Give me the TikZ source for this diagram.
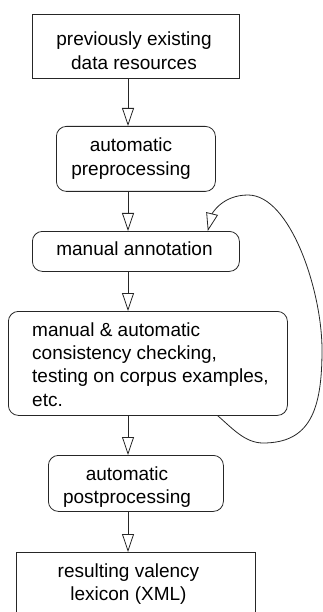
\documentclass[tikz,border=0pt]{standalone}
\usepackage{fontspec}
\setmainfont{Liberation Sans}
\usetikzlibrary{arrows.meta}
\begin{document}
\begin{tikzpicture}[x=1pt,y=-1pt,
  box/.style={draw=black!85, line width=0.8pt, inner sep=0pt, anchor=north west},
  rbox/.style={box, rounded corners=10pt},
  txt/.style={inner sep=0pt, anchor=base, font=\fontsize{19}{23.4}\selectfont},
  arr/.style={draw=black!85, line width=0.8pt, -{Triangle[open,length=18pt,width=12pt]}}
]
\path[use as bounding box, clip] (0,0) rectangle (323,612);
\coordinate (ax) at (128,0);
% boxes
\node[box,  minimum width=207pt, minimum height=64pt]  (b1) at (32,14) {};
\node[rbox, minimum width=159pt, minimum height=65pt]  (b2) at (56,126) {};
\node[rbox, minimum width=207pt, minimum height=40pt]  (b3) at (32,231) {};
\node[rbox, minimum width=279pt, minimum height=104pt] (b4) at (8,311) {};
\node[rbox, minimum width=175pt, minimum height=56pt]  (b5) at (48,455) {};
\node[box,  minimum width=239pt, minimum height=80pt]  (b6) at (16,552) {};
% texts
\node[txt] (t1) at (134,46) {\begin{tabular}[t]{@{}c@{}}previously existing\\data resources\end{tabular}};
\node[txt] (t2) at (131,152) {\begin{tabular}[t]{@{}c@{}}automatic\\preprocessing\end{tabular}};
\node[txt] (t3) at (134.5,255) {manual annotation};
\node[txt, anchor=base west] (t4) at (32,336) {\begin{tabular}[t]{@{}l@{}}manual \& automatic\\consistency checking,\\testing on corpus examples,\\etc.\end{tabular}};
\node[txt] (t5) at (127,480) {\begin{tabular}[t]{@{}c@{}}automatic\\postprocessing\end{tabular}};
\node[txt] (t6) at (128.5,577) {\begin{tabular}[t]{@{}c@{}}resulting valency\\lexicon (XML)\end{tabular}};
% arrows
\draw[arr] (b1.south -| ax) -- (b2.north -| ax);
\draw[arr] (b2.south -| ax) -- (b3.north -| ax);
\draw[arr] (b3.south -| ax) -- (b4.north -| ax);
\draw[arr] (b4.south -| ax) -- (b5.north -| ax);
\draw[arr] (b5.south -| ax) -- (b6.north -| ax);
% feedback loop
\draw[arr] ([xshift=-70pt]b4.south east) .. controls (232,428) and (245,443) .. (263,443)
  .. controls (310,443) and (322,410) .. (322,350)
  .. controls (322,290) and (290,195) .. (248,195)
  .. controls (222,195) and (212,214) .. ([xshift=-32pt]b3.north east);
\end{tikzpicture}
\end{document}
